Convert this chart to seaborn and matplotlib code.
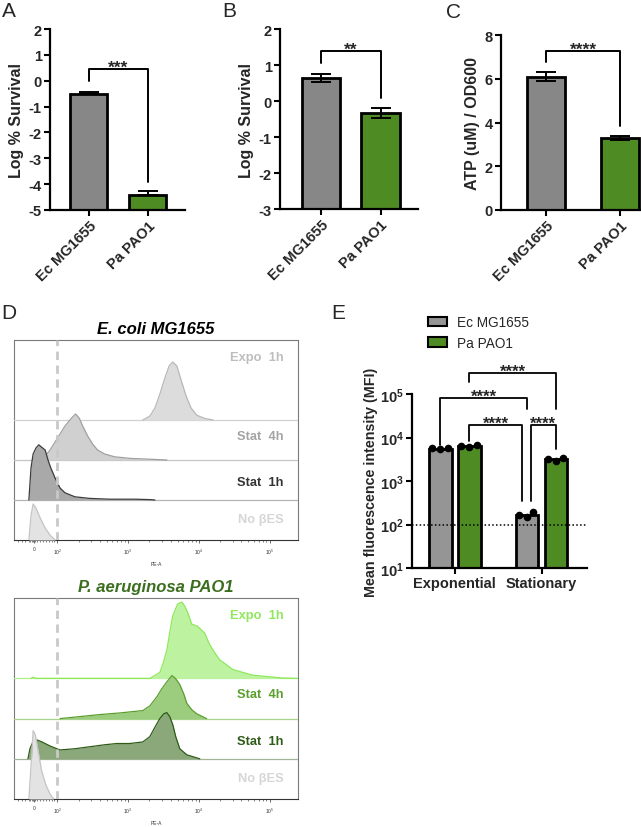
import numpy as np
import pandas as pd
import matplotlib
matplotlib.use("Agg")
import matplotlib.pyplot as plt
import seaborn as sns
from matplotlib.patches import Patch

sns.set_theme(style="ticks")
plt.rcParams['font.family'] = ['Liberation Sans', 'DejaVu Sans']
plt.rcParams['mathtext.fontset'] = 'custom'
plt.rcParams['mathtext.rm'] = 'Liberation Sans'
plt.rcParams['mathtext.bf'] = 'Liberation Sans:bold'
plt.rcParams['mathtext.it'] = 'Liberation Sans:italic'
plt.rcParams['axes.unicode_minus'] = False

# ---------------- data ----------------
strains = ["Ec MG1655", "Pa PAO1"]
bar_colors = ["#878787", "#4f8b23"]

# A: log % survival
surv_a = [-0.52, -4.43]
surv_a_err = [0.10, 0.15]
# B: log % survival
surv_b = [0.64, -0.33]
surv_b_err = [0.12, 0.14]
# C: ATP / OD600
atp = [6.10, 3.30]
atp_err = [0.19, 0.10]

# E: MFI replicates
phases = ["Exponential", "Stationary"]
mfi_ec_exp = [5300, 5600, 5700]
mfi_pa_exp = [6200, 6700, 6500]
mfi_ec_stat = [150, 195, 165]
mfi_pa_stat = [2900, 3350, 3200]

# D: histograms, x in display decades (10^2 -> 2), height in lane units
lane_names = ["No βES", "Stat  1h", "Stat  4h", "Expo  1h"]

ec_nobes_u = [1.60, 1.63, 1.66, 1.70, 1.76, 1.83, 1.90, 1.97]
ec_nobes_h = [0, 0.6, 0.9, 0.8, 0.55, 0.3, 0.12, 0]
ec_stat1_u = [1.60, 1.63, 1.66, 1.70, 1.74, 1.78, 1.83, 1.87, 1.91, 1.97, 2.04, 2.11,
              2.25, 2.46, 2.74, 3.10, 3.31, 3.38]
ec_stat1_h = [0, 0.8, 1.15, 1.3, 1.38, 1.32, 1.25, 1.0, 0.8, 0.55, 0.3, 0.18,
              0.08, 0.04, 0.02, 0.02, 0.01, 0]
ec_stat4_u = [1.66, 1.76, 1.83, 1.90, 1.97, 2.04, 2.11, 2.18, 2.22, 2.26, 2.31, 2.36,
              2.43, 2.50, 2.57, 2.67, 2.81, 3.03, 3.31, 3.55]
ec_stat4_h = [0, 0.05, 0.1, 0.25, 0.45, 0.65, 0.85, 1.0, 1.08, 1.15, 1.05, 0.85,
              0.6, 0.4, 0.25, 0.15, 0.08, 0.04, 0.02, 0]
ec_expo_u = [3.21, 3.31, 3.38, 3.45, 3.52, 3.58, 3.63, 3.69, 3.74, 3.82, 3.89, 3.97, 4.08, 4.20]
ec_expo_h = [0, 0.1, 0.3, 0.65, 1.05, 1.35, 1.45, 1.35, 1.05, 0.6, 0.3, 0.12, 0.04, 0]

pa_nobes_u = [1.60, 1.63, 1.66, 1.69, 1.73, 1.78, 1.84, 1.90, 1.95]
pa_nobes_h = [0, 0.8, 1.7, 1.6, 1.2, 0.7, 0.35, 0.12, 0]
pa_stat1_u = [1.587, 1.615, 1.657, 1.714, 1.784, 1.897, 2.038, 2.250, 2.461, 2.673, 2.842,
              3.025, 3.209, 3.307, 3.378, 3.448, 3.505, 3.547, 3.589, 3.632, 3.674, 3.731,
              3.829, 4.013]
pa_stat1_h = [0, 0.25, 0.42, 0.47, 0.42, 0.32, 0.22, 0.25, 0.3, 0.35, 0.38,
              0.38, 0.42, 0.55, 0.78, 1.0, 1.12, 1.15, 1.05, 0.85, 0.55, 0.25,
              0.1, 0]
pa_stat4_u = [2.04, 2.32, 2.60, 2.88, 3.21, 3.31, 3.41, 3.48, 3.55, 3.62, 3.67, 3.73,
              3.79, 3.83, 3.90, 3.97, 4.11]
pa_stat4_h = [0, 0.05, 0.1, 0.14, 0.2, 0.32, 0.55, 0.75, 0.92, 1.07, 1.0, 0.85,
              0.6, 0.38, 0.22, 0.12, 0]
pa_expo_u = [1.63, 1.66, 1.70, 3.31, 3.45, 3.50, 3.55, 3.59, 3.63, 3.70, 3.76, 3.80, 3.84,
             3.90, 3.98, 4.08, 4.15, 4.22, 4.29, 4.48, 4.76, 5.18, 5.40]
pa_expo_h = [0, 0.03, 0, 0, 0.15, 0.4, 0.72, 1.15, 1.55, 1.85, 1.9, 1.8, 1.65,
             1.35, 1.3, 1.13, 0.85, 0.65, 0.47, 0.22, 0.08, 0.01, 0]

W, H = 641, 828
fig = plt.figure(figsize=(W / 100, H / 100), dpi=100)


def px_axes(l, t, r, b):
    return fig.add_axes([l / W, 1 - b / H, (r - l) / W, (b - t) / H])


def style_axis(ax, size=10.5):
    sns.despine(ax=ax)
    for s in ["left", "bottom"]:
        ax.spines[s].set_linewidth(1.6)
        ax.spines[s].set_color("black")
    ax.tick_params(width=1.5, length=4, color="black", labelsize=size, pad=2)
    for lab in ax.get_yticklabels() + ax.get_xticklabels():
        lab.set_fontweight("bold")


def bar_panel(ax, vals, errs, base, yticks, ylabel, xlim, width, up_only, brk, stars):
    heights = np.array(vals) - base
    sns.barplot(x=strains, y=heights, hue=strains, palette=bar_colors, width=width,
                edgecolor="black", linewidth=2, bottom=base, errorbar=None,
                legend=False, ax=ax, saturation=1)
    lo = np.zeros(2) if up_only else np.array(errs)
    ax.errorbar([0, 1], vals, yerr=[lo, errs], fmt="none", ecolor="black",
                elinewidth=1.4, capsize=7, capthick=1.4, zorder=5)
    ax.plot([0, 0, 1, 1], [brk[0], brk[1], brk[1], brk[2]], color="black", lw=1.4,
            clip_on=False)
    ax.annotate(stars, (0.5, brk[1]), xytext=(0, -4), textcoords="offset points",
                ha="center", va="bottom", fontsize=12.5, fontweight="bold")
    ax.set_ylim(yticks[0], yticks[-1])
    ax.set_yticks(yticks)
    ax.set_xlim(*xlim)
    ax.set_xlabel("")
    ax.set_ylabel(ylabel, fontsize=11.5, fontweight="bold", labelpad=3)
    style_axis(ax)
    ax.set_xticks([0, 1])
    ax.set_xticklabels(strains, rotation=45, ha="right", rotation_mode="anchor",
                       fontweight="bold", fontsize=10.5)


ax_a = px_axes(50, 30, 185, 211)
bar_panel(ax_a, surv_a, surv_a_err, -5, list(range(-5, 3)), "Log % Survival",
          (-0.66, 1.63), 0.63, True, (0.0, 0.44, -3.9), "***")

ax_b = px_axes(280, 30, 418, 210)
bar_panel(ax_b, surv_b, surv_b_err, -3, list(range(-3, 3)), "Log % Survival",
          (-0.69, 1.63), 0.64, False, (1.06, 1.38, 0.08), "**")

ax_c = px_axes(501, 36, 641, 211)
bar_panel(ax_c, atp, atp_err, 0, [0, 2, 4, 6, 8], "ATP (uM) / OD600",
          (-0.61, 1.28), 0.51, False, (6.75, 7.28, 3.86), "****")

# ---------------- D: histograms ----------------
def hist_panel(ax, lanes, title, title_color):
    n = len(lanes)
    for i in range(n - 1, -1, -1):
        name, u, h, fill, edge, tcol, base_col = lanes[i]
        u = np.array(u)
        h = np.array(h)
        z = 10 + (n - i) * 3
        if i > 0:
            ax.axhline(i, color=base_col, lw=0.9, zorder=z - 1)
        ax.fill_between(u, i, i + h, color=fill, lw=0, zorder=z)
        ax.plot(u, i + h, color=edge, lw=0.9, zorder=z + 1)
    ax.axvline(2, color="#c9c9c9", lw=2, ls=(0, (3, 2)), zorder=30)
    label_y = [0.52, 1.45, 2.6, 4.57]
    for i, lane in enumerate(lanes):
        ax.text(5.20, label_y[i], lane[0], ha="right", va="center", fontsize=9.3,
                fontweight="bold", color=lane[5], zorder=40)
    ax.set_xlim(1.39, 5.40)
    ax.set_ylim(0, 5)
    ax.set_yticks([])
    ax.set_xticks([1.67, 2, 3, 4, 5])
    ax.set_xticklabels(["0", "$10^2$", "$10^3$", "$10^4$", "$10^5$"])
    minors = [1.45, 1.5, 1.55, 1.6, 1.62, 1.64, 1.66, 1.69, 1.72, 1.76, 1.80, 1.84,
              1.88, 1.92, 1.96]
    for k in (2, 3, 4):
        minors += [k + np.log10(m) for m in range(2, 10)]
    ax.set_xticks(minors, minor=True)
    ax.tick_params(axis="x", which="major", length=2.5, width=0.6, color="#555555",
                   labelsize=3.5, pad=2, labelcolor="#333333")
    ax.tick_params(axis="x", which="minor", length=1.5, width=0.5, color="#555555")
    for s in ax.spines.values():
        s.set_color("#7a7a7a")
        s.set_linewidth(0.8)
    ax.spines["bottom"].set_color("#333333")
    ax.set_xlabel("PE-A", fontsize=3.5, labelpad=4, color="#333333")
    ax.set_title(title, fontsize=12, fontweight="bold", style="italic",
                 color=title_color, pad=5)


ec_lanes = [
    (lane_names[0], ec_nobes_u, ec_nobes_h, "#e3e3e3", "#c4c4c4", "#d6d6d6", "#c8c8c8"),
    (lane_names[1], ec_stat1_u, ec_stat1_h, "#a9a9a9", "#3c3c3c", "#333333", "#b4b4b4"),
    (lane_names[2], ec_stat4_u, ec_stat4_h, "#d0d0d0", "#a0a0a0", "#a3a3a3", "#c4c4c4"),
    (lane_names[3], ec_expo_u, ec_expo_h, "#dcdcdc", "#b8b8b8", "#bdbdbd", "#d0d0d0"),
]
pa_lanes = [
    (lane_names[0], pa_nobes_u, pa_nobes_h, "#e3e3e3", "#c4c4c4", "#d6d6d6", "#c8c8c8"),
    (lane_names[1], pa_stat1_u, pa_stat1_h, "#8aa87a", "#2e5c18", "#2e5c18", "#a3b598"),
    (lane_names[2], pa_stat4_u, pa_stat4_h, "#9ccc7e", "#5b9e2e", "#5a9e2c", "#a8d38e"),
    (lane_names[3], pa_expo_u, pa_expo_h, "#bdf3a0", "#8de85a", "#8ee85c", "#b0ee8a"),
]

ax_d1 = px_axes(14, 341, 298, 541)
hist_panel(ax_d1, ec_lanes, "E. coli MG1655", "black")
ax_d2 = px_axes(14, 599, 298, 800)
hist_panel(ax_d2, pa_lanes, "P. aeruginosa PAO1", "#3b6e1e")

# ---------------- E: MFI ----------------
slot_order = ["Ec Exp", "Pa Exp", "", "Ec Stat", "Pa Stat"]
df_e = pd.DataFrame({
    "slot": ["Ec Exp"] * 3 + ["Pa Exp"] * 3 + ["Ec Stat"] * 3 + ["Pa Stat"] * 3,
    "strain": [strains[0]] * 3 + [strains[1]] * 3 + [strains[0]] * 3 + [strains[1]] * 3,
    "mfi": mfi_ec_exp + mfi_pa_exp + mfi_ec_stat + mfi_pa_stat,
})

ax_e = px_axes(412, 395, 587, 569)
ax_e.set_yscale("log")
sns.barplot(data=df_e, x="slot", y="mfi", hue="strain", order=slot_order,
            palette=["#959595", "#4f8b23"], dodge=False, width=0.79, errorbar=None,
            edgecolor="black", linewidth=2, saturation=1, legend=False, ax=ax_e)
sns.swarmplot(data=df_e, x="slot", y="mfi", order=slot_order, color="black",
              size=5.5, ax=ax_e, zorder=6)
ax_e.axhline(100, color="black", ls=(0, (1, 1.5)), lw=1.1, zorder=7)
ax_e.set_ylim(10, 1e5)
ax_e.set_xlim(-0.97, 5.07)
ax_e.set_yticks([10, 100, 1000, 1e4, 1e5])
ax_e.set_yticklabels([r"$\mathbf{10^{%d}}$" % k for k in range(1, 6)])
ax_e.yaxis.set_minor_locator(matplotlib.ticker.NullLocator())
ax_e.set_xticks([0.5, 3.5])
ax_e.set_xticklabels(phases)
ax_e.set_xlabel("")
ax_e.set_ylabel("Mean fluorescence intensity (MFI)", fontsize=10.3,
                fontweight="bold", labelpad=1)
style_axis(ax_e)

# significance brackets: (x_left, x_right, y_left, y_top, y_right)
e_brackets = [
    (1, 4, 190000, 302000, 44700),
    (0, 3, 6800, 79400, 44700),
    (1, 2.84, 8500, 19500, 355),
    (3.12, 4, 355, 19500, 5500),
]
for xl, xr, yl, yt, yr in e_brackets:
    ax_e.plot([xl, xl, xr, xr], [yl, yt, yt, yr], color="black", lw=1.3, clip_on=False)
    ax_e.annotate("****", ((xl + xr) / 2, yt), xytext=(0, -4), textcoords="offset points",
                  ha="center", va="bottom", fontsize=12, fontweight="bold",
                  annotation_clip=False)

handles = [Patch(facecolor=c, edgecolor="black", linewidth=1.5, label=s)
           for c, s in zip(["#959595", "#4f8b23"], strains)]
fig.legend(handles=handles, loc="upper left", bbox_to_anchor=(416 / W, 1 - 304 / H),
           frameon=False, fontsize=9.8, handlelength=1.4, handleheight=0.75,
           labelspacing=0.5, handletextpad=0.7)

# panel letters
for letter, x, y in [("A", 2, 2), ("B", 222, 2), ("C", 446, 3), ("D", 1, 304), ("E", 331, 304)]:
    fig.text(x / W, 1 - y / H, letter, fontsize=15, va="top", ha="left")

fig.savefig("out.png", dpi=100)
